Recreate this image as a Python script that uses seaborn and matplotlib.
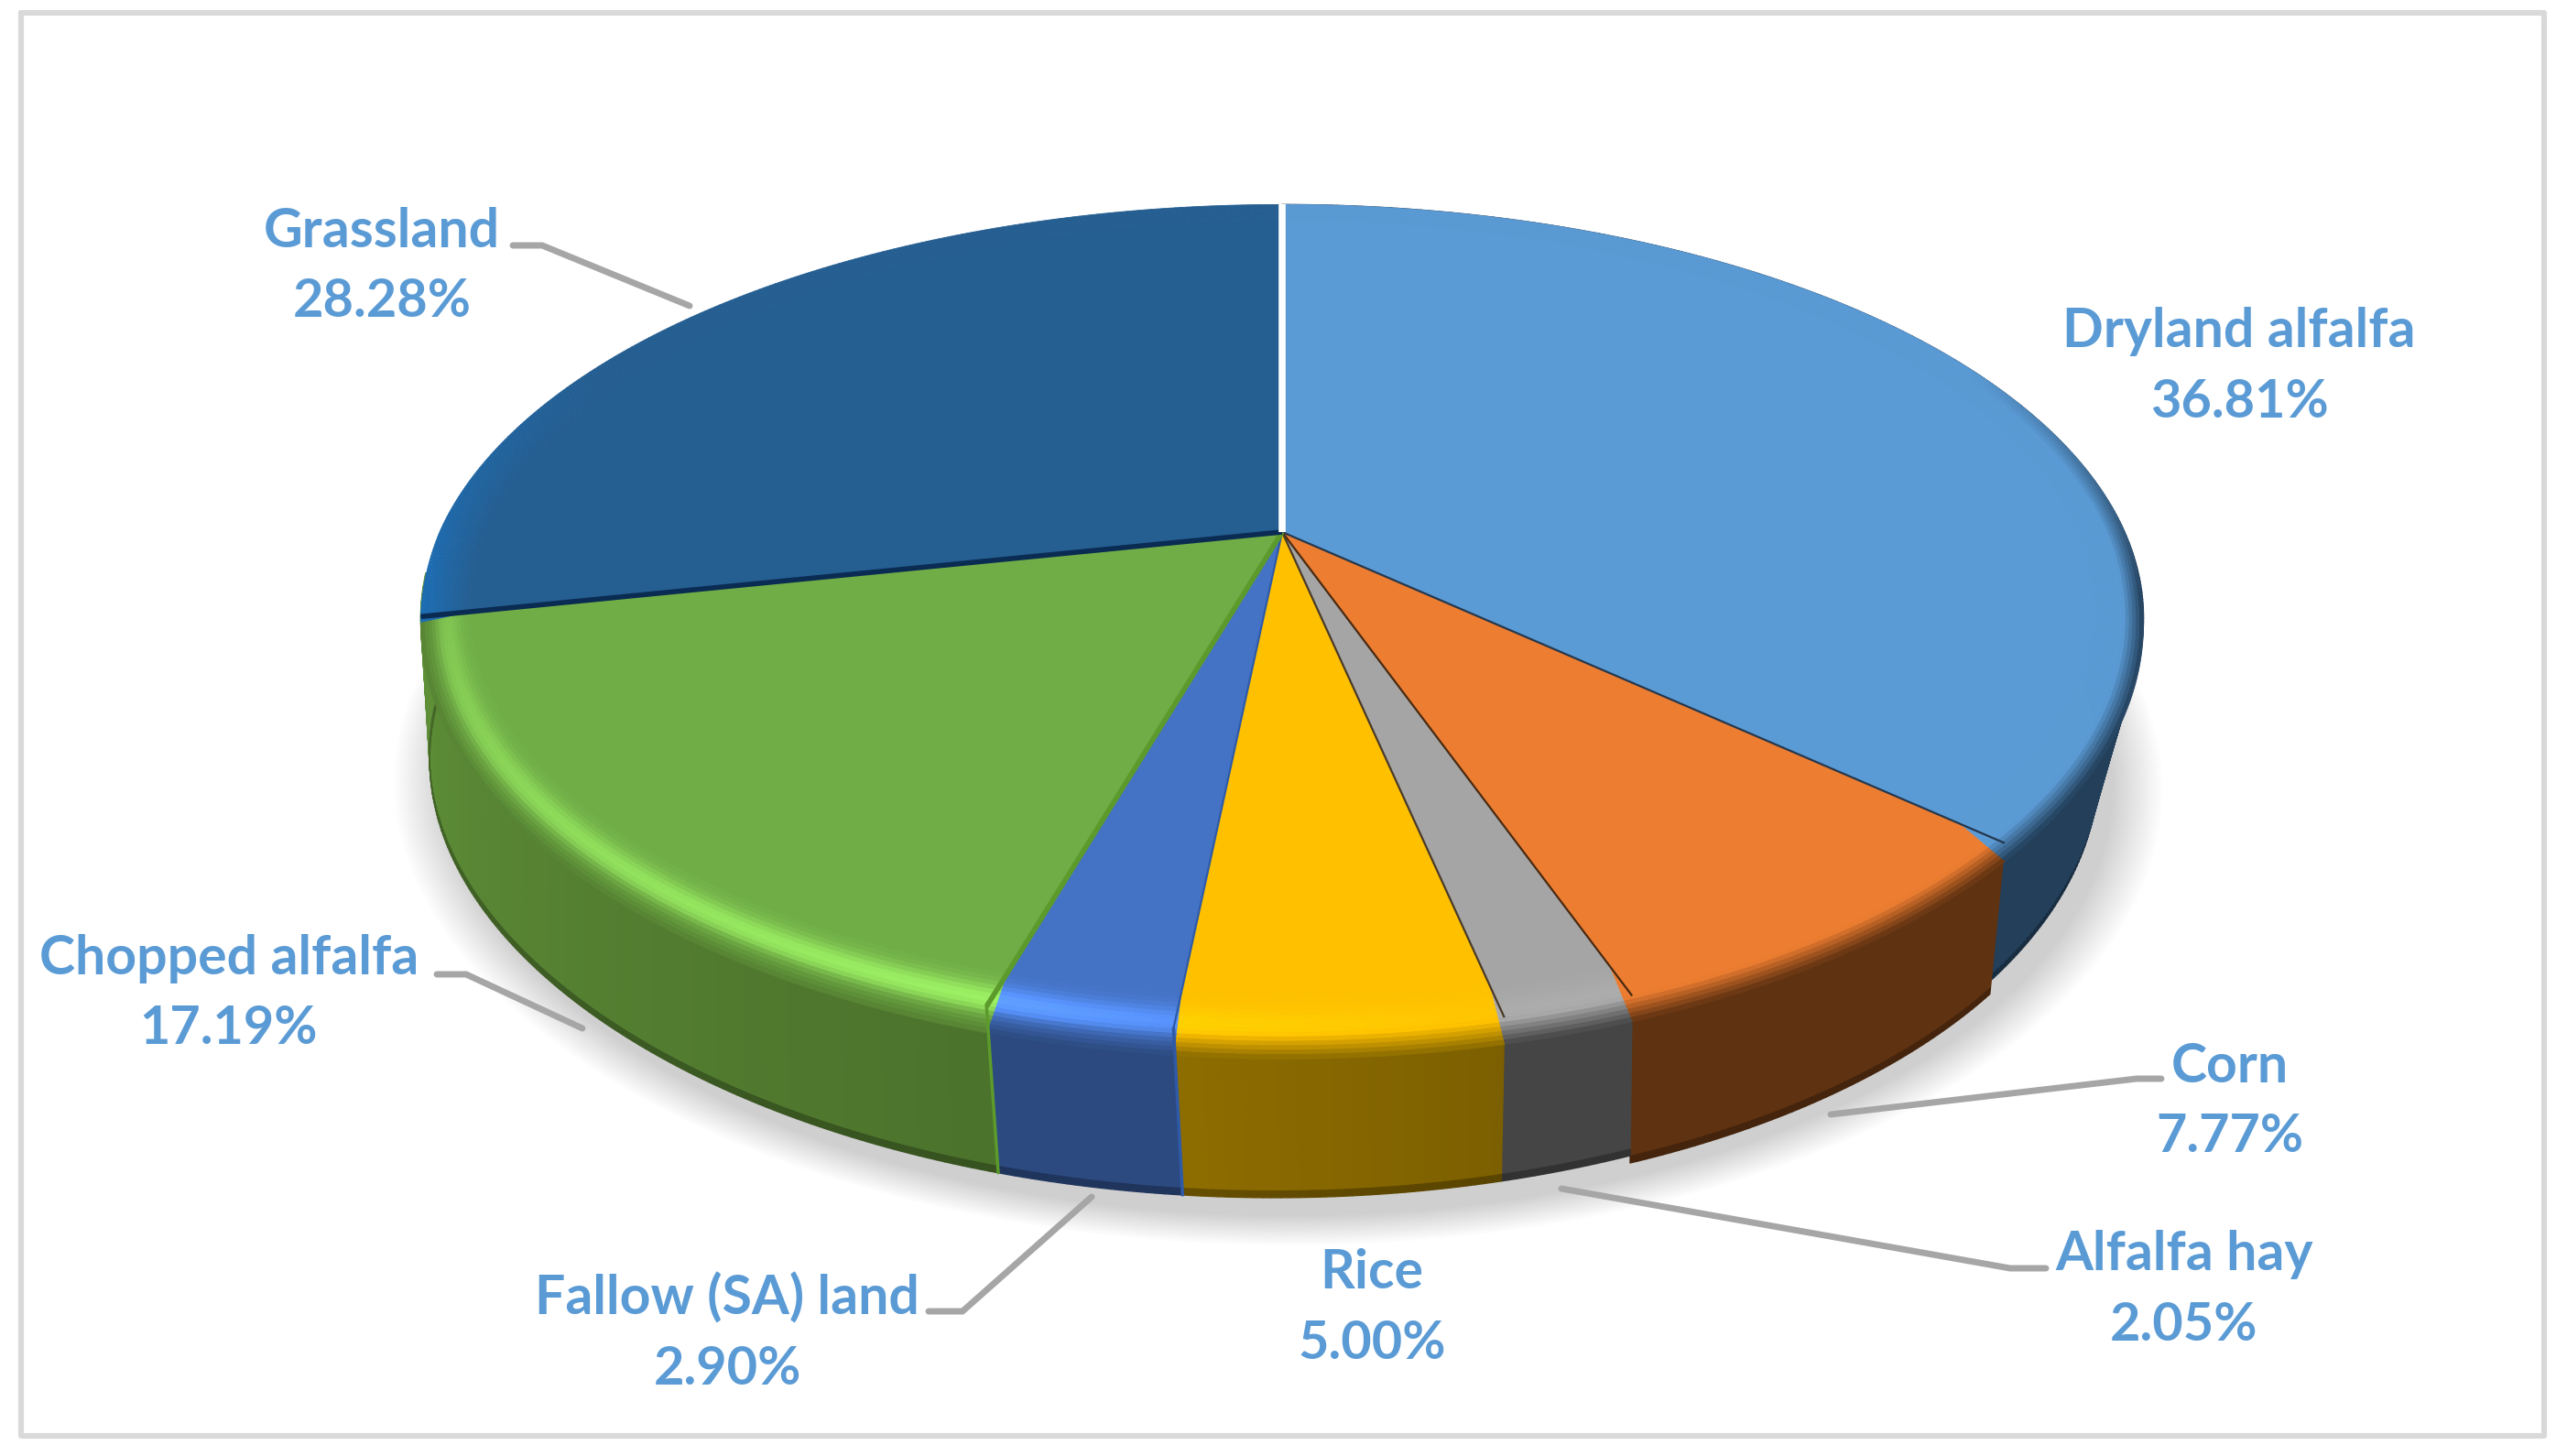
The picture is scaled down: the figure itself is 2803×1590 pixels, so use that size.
import numpy as np
import seaborn as sns
import matplotlib.pyplot as plt
from matplotlib.collections import PolyCollection

# crop shares, clockwise from 12 o'clock
categories = ["Dryland alfalfa", "Corn", "Alfalfa hay", "Rice", "Fallow (SA) land", "Chopped alfalfa", "Grassland"]
shares = [36.81, 7.77, 2.05, 5.00, 2.90, 17.19, 28.28]

top_colors = ["#5B9BD5", "#ED7D31", "#A5A5A5", "#FFC000", "#4472C4", "#70AD47", "#255E91"]
wall_colors = ["#233F5A", "#5F3211", "#454545", "#8A6A00", "#2C4A80", "#568232", "#1B4C78"]
seam_colors = ["#24384E", "#4A2A10", "#4A3A28", "#2E5AA8", "#5C9A2C", "#0A2C52", "#FFFFFF"]

sns.set_theme(style="white")
plt.rcParams["font.family"] = ["Lato", "DejaVu Sans"]
top_rgb = np.array(sns.color_palette(top_colors))
wall_rgb = np.array(sns.color_palette(wall_colors))

W, H = 2803, 1590
fig = plt.figure(figsize=(W / 100, H / 100), dpi=100)
ax = fig.add_axes([0, 0, 1, 1])
ax.set_xlim(0, W)
ax.set_ylim(H, 0)
ax.axis("off")


# perspective disc, theta in degrees clockwise from the back of the pie
def top_xy(theta, r=1.0):
    t = np.radians(theta)
    u, v = r * np.sin(t), r * np.cos(t)
    w = 1 + 0.208 * v
    return np.column_stack([1400 + 920 * u / w, 581 - 432 * v / w])


def bottom_xy(theta):
    # wall seams stand almost upright on the front left
    theta = theta - np.interp(theta, [168, 186, 196, 240, 270], [0, 1.0, 1.4, 0.6, 0])
    t = np.radians(theta)
    u, v = np.sin(t), np.cos(t)
    w = 1 + 0.27 * v
    # the left side of the base sits a bit further out than the right
    extra = 26 * np.clip(-u, 0, 1) ** 3
    return np.column_stack([1392 + 866 * u / w - extra, 712 - 435 * v / w])


edges = np.concatenate([[0], np.cumsum(shares)]) * 3.6


def front_amount(theta):
    return np.clip((0.45 - np.cos(np.radians(theta))) / 0.6, 0, 1)


# soft shadow under the base
ring = np.linspace(0, 360, 361)
base = bottom_xy(ring)
centre = base.mean(axis=0)
for i in range(24):
    grow = 1 + 0.06 * (1 - i / 23)
    ax.fill(centre[0] + (base[:, 0] - centre[0]) * grow + 16,
            centre[1] + (base[:, 1] - centre[1]) * grow + 20,
            color="black", alpha=0.0065, lw=0, zorder=1)

# side walls, right to left so each slice overlaps its neighbour
# the grassland wall is hidden behind the chopped alfalfa corner
for i in range(len(shares) - 1):
    end = edges[i + 1] + (6 if i == 5 else 0)
    th = np.arange(edges[i], end + 0.5, 0.5)
    th[-1] = end
    a, b = top_xy(th), bottom_xy(th)
    if i == 1:
        # the corn slice hangs slightly lower than dryland alfalfa
        b[:, 1] += np.interp(th, [edges[1], edges[2]], [14, 8])
    quads, cols = [], []
    for j in range(len(th) - 1):
        shade = 1.0
        if i == 5:
            shade = np.interp(th[j], [196, 258], [0.88, 1.1])
        if i == 3:
            shade = np.interp(th[j], [168, 186], [0.9, 1.03])
        c = np.clip(wall_rgb[i] * shade, 0, 1)
        for s0, s1, f in [(0, 0.96, 1.0), (0.96, 1.0, 0.72)]:
            p = a[j] + (b[j] - a[j]) * s0
            q = a[j + 1] + (b[j + 1] - a[j + 1]) * s0
            r = a[j + 1] + (b[j + 1] - a[j + 1]) * s1
            s = a[j] + (b[j] - a[j]) * s1
            quads.append([p, q, r, s])
            cols.append(c * f)
    ax.add_collection(PolyCollection(quads, facecolors=cols, edgecolors=cols, linewidths=1.0, zorder=2 + i * 0.01))

# flat tops with the bevel band along the rim
r_steps = np.linspace(0.945, 1.0, 15)
glow_scale = [0, 0, 0.5, 0.3, 1, 1, 1]
for i in range(len(shares)):
    th = np.arange(edges[i], edges[i + 1] + 0.5, 0.5)
    th[-1] = edges[i + 1]
    flat = np.vstack([top_xy(np.array([0.0]), 0.0), top_xy(th, r_steps[0])])
    ax.fill(flat[:, 0], flat[:, 1], color=top_rgb[i], lw=0.5, ec=top_rgb[i], zorder=3)
    quads, cols = [], []
    for j in range(len(th) - 1):
        tm = (th[j] + th[j + 1]) / 2
        front = front_amount(tm)
        glow = np.interp(tm, [168, 195, 220, 258, 360], [0.2, 1, 0.8, 0.35, 0.0]) * glow_scale[i]
        drop = 30 * np.clip(-np.cos(np.radians(tm)), 0, 1)
        for k in range(len(r_steps) - 1):
            p = (k + 0.5) / (len(r_steps) - 1)
            bump = np.exp(-((p - 0.45) / 0.24) ** 2)
            c = top_rgb[i] * (1 + 0.4 * glow * bump)
            dark = np.clip((p - 0.6) / 0.4, 0, 1) * front
            if i == 6:
                c = np.array([0.11, 0.43, 0.71]) * p * front + top_rgb[i] * (1 - p * front)
                dark = 0
            c = np.clip(c * (1 - dark) + wall_rgb[i] * dark, 0, 1)
            i0 = top_xy(th[j:j + 2], r_steps[k]) + [0, drop * k / (len(r_steps) - 1)]
            i1 = top_xy(th[j:j + 2], r_steps[k + 1]) + [0, drop * (k + 1) / (len(r_steps) - 1)]
            quads.append([i0[0], i0[1], i1[1], i1[0]])
            cols.append(c)
    ax.add_collection(PolyCollection(quads, facecolors=cols, edgecolors=cols, linewidths=0.6, zorder=4))

# seams between slices, running over the top and down the wall
seam_widths = [1.6, 1.6, 1.6, 1.6, 4.0, 4.0, 5.5]
for i in range(len(shares)):
    e = np.array([edges[i + 1] % 360])
    pts = np.vstack([top_xy(e, 0.0), top_xy(e, 1.0)])
    ax.plot(pts[:, 0], pts[:, 1], color=seam_colors[i], lw=seam_widths[i], solid_capstyle="butt", zorder=5)
    if 3 <= i < len(shares) - 2:
        down = np.vstack([top_xy(e, 1.0), bottom_xy(e)])
        ax.plot(down[:, 0], down[:, 1], color=seam_colors[i], lw=2.5, zorder=5)

# labels and leader lines
label_pos = [(2445, 362), (2435, 1165), (2385, 1370), (1498, 1390), (794, 1418), (250, 1047), (417, 253)]
leaders = [None,
           [(2360, 1178), (2333, 1178), (1999, 1217)],
           [(2234, 1385), (2195, 1385), (1705, 1298)],
           None,
           [(1014, 1432), (1051, 1432), (1192, 1307)],
           [(477, 1064), (509, 1064), (636, 1123)],
           [(560, 268), (592, 268), (753, 334)]]

for name, share, pos, lead in zip(categories, shares, label_pos, leaders):
    ax.text(pos[0], pos[1], name, color="#5B9BD5", fontsize=42.5, fontweight="bold", ha="center", va="center", zorder=7)
    ax.text(pos[0], pos[1] + 77, f"{share:.2f}%", color="#5B9BD5", fontsize=41.5, fontweight="bold", ha="center", va="center", zorder=7)
    if lead is not None:
        ax.plot(*zip(*lead), color="#A6A6A6", lw=5, solid_joinstyle="miter", zorder=6)

# chart frame
ax.plot([23, 2778, 2778, 23, 23], [14, 14, 1568, 1568, 14], color="#D9D9D9", lw=4.4, zorder=8)

fig.savefig("out.png", dpi=100, facecolor="white")
